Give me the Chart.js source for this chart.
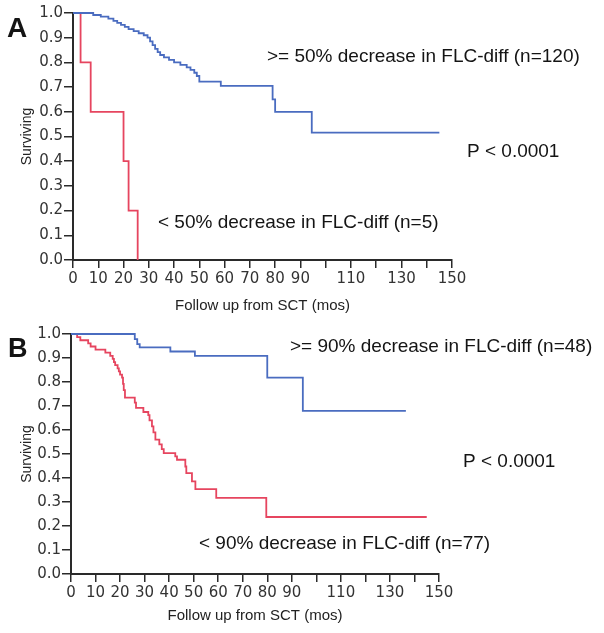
<!DOCTYPE html>
<html>
<head>
<meta charset="utf-8">
<script src="https://cdn.jsdelivr.net/npm/chart.js@4.4.1/dist/chart.umd.min.js"></script>
<style>
    html, body { margin: 0; padding: 0; background: #fff; }
    #wrap { position: relative; width: 604px; height: 633px; }
    canvas { position: absolute; left: 0; }
    #chartA { top: 0; }
    #chartB { top: 320px; }
</style>
</head>
<body>
<div id="wrap">
    <canvas id="chartA" width="604" height="320"></canvas>
    <canvas id="chartB" width="604" height="313"></canvas>
</div>
<script>
// Tick labels (100, 120, 140 have a tick mark but no label)
const xTickLabels = ['0', '10', '20', '30', '40', '50', '60', '70', '80', '90', '', '110', '', '130', '', '150'];
const yTickLabels = ['0.0', '0.1', '0.2', '0.3', '0.4', '0.5', '0.6', '0.7', '0.8', '0.9', '1.0'];

// Panel A - months from SCT / survival fraction after each step
const aBlueTime = [0, 8, 11, 14, 16, 17.5, 19, 20.5, 22, 24, 26, 28, 29.5, 30.5, 31.5, 32.5, 33.5, 34.5, 36, 38, 40, 42.5, 45, 46.5, 48, 49, 50, 58.5, 79, 80, 94.5, 145];
const aBlueSurv = [1.0, 0.992, 0.985, 0.977, 0.968, 0.96, 0.952, 0.944, 0.935, 0.927, 0.918, 0.91, 0.9, 0.885, 0.87, 0.855, 0.842, 0.83, 0.82, 0.81, 0.8, 0.79, 0.78, 0.77, 0.758, 0.745, 0.722, 0.705, 0.65, 0.6, 0.516, 0.516];
const aRedTime = [0, 3, 7, 20, 22, 25.6];
const aRedSurv = [1.0, 0.8, 0.6, 0.4, 0.2, 0.0];

// Panel B
const bBlueTime = [0, 26, 27, 28, 40.5, 50.5, 80, 94.5, 136.5];
const bBlueSurv = [1.0, 0.979, 0.958, 0.944, 0.927, 0.909, 0.818, 0.68, 0.68];
const bRedTime = [0, 2.5, 3.8, 7, 8, 10, 14, 16, 17, 17.5, 18, 19, 19.5, 20, 20.8, 21.2, 21.5, 22, 26, 26.5, 29.5, 31.5, 32, 33, 33.6, 34.4, 36, 37, 37.8, 42.5, 43.2, 46.6, 47, 49.3, 50.7, 59.2, 79.6, 145];
const bRedSurv = [1.0, 0.987, 0.974, 0.961, 0.948, 0.935, 0.922, 0.909, 0.896, 0.883, 0.870, 0.857, 0.844, 0.831, 0.818, 0.792, 0.766, 0.735, 0.714, 0.692, 0.675, 0.662, 0.64, 0.615, 0.59, 0.56, 0.54, 0.52, 0.504, 0.49, 0.476, 0.448, 0.42, 0.386, 0.354, 0.317, 0.2375, 0.2375];

const BLUE = '#4a6cc0';
const RED = '#e6455f';
const AXIS = '#2a2a2a';
const TEXT_FONT = '"Liberation Sans", Arial, sans-serif';

// draws the panel letter, group labels and p value
const notesPlugin = {
    id: 'notes',
    afterDraw(chart, args, opts) {
        const ctx = chart.ctx;
        ctx.save();
        ctx.textBaseline = 'alphabetic';
        ctx.textAlign = 'left';
        (opts.items || []).forEach(n => {
            ctx.font = n.font;
            ctx.fillStyle = '#141414';
            ctx.fillText(n.text, n.x, n.y);
        });
        ctx.restore();
    }
};

function toPoints(times, surv) {
    return times.map((t, i) => ({ x: t, y: surv[i] }));
}

function makeChart(id, blue, red, layout, notes) {
    const ctx = document.getElementById(id);
    return new Chart(ctx, {
        type: 'line',
        data: {
            datasets: [
                {
                    label: 'blue',
                    data: toPoints(blue[0], blue[1]),
                    borderColor: BLUE,
                    borderWidth: 1.8,
                    pointRadius: 0,
                    stepped: 'before',
                    fill: false,
                    clip: false
                },
                {
                    label: 'red',
                    data: toPoints(red[0], red[1]),
                    borderColor: RED,
                    borderWidth: 1.8,
                    pointRadius: 0,
                    stepped: 'before',
                    fill: false,
                    clip: false
                }
            ]
        },
        options: {
            responsive: false,
            animation: false,
            layout: {
                padding: { top: layout.top, right: layout.right, left: 0, bottom: 0 }
            },
            plugins: {
                legend: { display: false },
                tooltip: { enabled: false },
                notes: { items: notes }
            },
            scales: {
                x: {
                    type: 'linear',
                    min: 0,
                    max: 150,
                    border: { display: true, color: AXIS, width: 2 },
                    grid: { drawOnChartArea: false, drawTicks: true, tickLength: 8, color: AXIS, lineWidth: 1.5 },
                    ticks: {
                        stepSize: 10,
                        autoSkip: false,
                        maxRotation: 0,
                        padding: 2,
                        color: '#333',
                        font: { family: '"DejaVu Sans"', size: 15 },
                        callback: (v, i) => xTickLabels[i]
                    },
                    title: {
                        display: true,
                        text: 'Follow up from SCT (mos)',
                        color: '#222',
                        font: { family: TEXT_FONT, size: 15 },
                        padding: { top: 0, bottom: layout.xTitlePad }
                    },
                    afterFit: s => { s.height = layout.xHeight; }
                },
                y: {
                    min: 0,
                    max: 1,
                    border: { display: true, color: AXIS, width: 2 },
                    grid: { drawOnChartArea: false, drawTicks: true, tickLength: 9, color: AXIS, lineWidth: 1.5 },
                    ticks: {
                        stepSize: 0.1,
                        autoSkip: false,
                        padding: 1,
                        color: '#333',
                        font: { family: '"DejaVu Sans"', size: 15 },
                        callback: (v, i) => yTickLabels[i]
                    },
                    title: {
                        display: true,
                        text: 'Surviving',
                        color: '#222',
                        font: { family: TEXT_FONT, size: 14 },
                        padding: { top: 19, bottom: 0 }
                    },
                    afterFit: s => { s.width = layout.yWidth; }
                }
            }
        },
        plugins: [notesPlugin]
    });
}

document.addEventListener('DOMContentLoaded', function() {
    makeChart('chartA', [aBlueTime, aBlueSurv], [aRedTime, aRedSurv],
        { top: 13, right: 152, xHeight: 60, yWidth: 73, xTitlePad: 5 },
        [
            { text: 'A', x: 7, y: 37, font: 'bold 28px ' + TEXT_FONT },
            { text: '>= 50% decrease in FLC-diff (n=120)', x: 267, y: 62, font: '19px ' + TEXT_FONT },
            { text: 'P < 0.0001', x: 467, y: 157, font: '19px ' + TEXT_FONT },
            { text: '< 50% decrease in FLC-diff (n=5)', x: 158, y: 228, font: '19px ' + TEXT_FONT }
        ]);

    makeChart('chartB', [bBlueTime, bBlueSurv], [bRedTime, bRedSurv],
        { top: 14, right: 165, xHeight: 59, yWidth: 71, xTitlePad: 8 },
        [
            { text: 'B', x: 8, y: 37, font: 'bold 27px ' + TEXT_FONT },
            { text: '>= 90% decrease in FLC-diff (n=48)', x: 290, y: 32, font: '19px ' + TEXT_FONT },
            { text: 'P < 0.0001', x: 463, y: 147, font: '19px ' + TEXT_FONT },
            { text: '< 90% decrease in FLC-diff (n=77)', x: 199, y: 229, font: '19px ' + TEXT_FONT }
        ]);
});
</script>
</body>
</html>
